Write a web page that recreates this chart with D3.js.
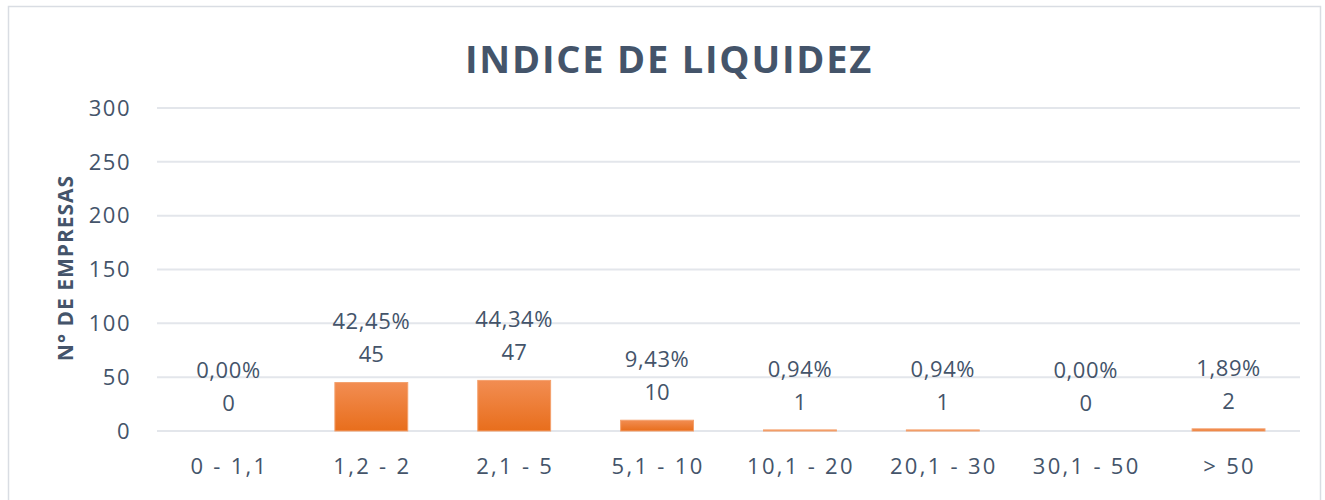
<!DOCTYPE html>
<html>
<head>
<meta charset="utf-8">
<script src="https://cdn.jsdelivr.net/npm/d3@7"></script>
<style>
  body { margin: 0; background: #fff; }
  text { font-family: "Open Sans", "Noto Sans", sans-serif; fill: #44546A; }
</style>
</head>
<body>
<div id="chart"></div>
<script>
// data
const categories = ["0 - 1,1", "1,2 - 2", "2,1 - 5", "5,1 - 10", "10,1 - 20", "20,1 - 30", "30,1 - 50", "> 50"];
const counts = [0, 45, 47, 10, 1, 1, 0, 2];
const percents = ["0,00%", "42,45%", "44,34%", "9,43%", "0,94%", "0,94%", "0,00%", "1,89%"];
const yTicks = [0, 50, 100, 150, 200, 250, 300];

const width = 1325;
const height = 500;
const margin = { top: 108, right: 25, bottom: 69, left: 157 };

const svg = d3
  .select("#chart")
  .append("svg")
  .attr("width", width)
  .attr("height", height);

// gradient for bars
const grad = svg.append("defs").append("linearGradient")
  .attr("id", "barGrad")
  .attr("x1", 0).attr("y1", 0).attr("x2", 0).attr("y2", 1);
grad.append("stop").attr("offset", "0%").attr("stop-color", "#F28D52");
grad.append("stop").attr("offset", "100%").attr("stop-color", "#E86E1C");

// outer frame
svg.append("rect")
  .attr("x", 8.5).attr("y", 6.5)
  .attr("width", 1312).attr("height", 500)
  .attr("fill", "none")
  .attr("stroke", "#D9DDE3")
  .attr("stroke-width", 1.5);

const x = d3.scaleBand()
  .domain(categories)
  .range([margin.left, width - margin.right])
  .padding(0);

const y = d3.scaleLinear()
  .domain([0, 300])
  .range([height - margin.bottom, margin.top]);

// gridlines
svg.append("g")
  .selectAll("line")
  .data(yTicks)
  .join("line")
  .attr("x1", margin.left)
  .attr("x2", width - margin.right)
  .attr("y1", (d) => y(d))
  .attr("y2", (d) => y(d))
  .attr("stroke", "#E3E6EB")
  .attr("stroke-width", 2);

// y tick labels
svg.append("g")
  .selectAll("text")
  .data(yTicks)
  .join("text")
  .attr("x", 131)
  .attr("y", (d) => y(d))
  .attr("dy", "0.35em")
  .attr("text-anchor", "end")
  .style("font-size", "22px")
  .style("letter-spacing", "1.5px")
  .text((d) => d);

// bars
const bw = x.bandwidth() * 0.51;
svg.append("g")
  .selectAll("rect")
  .data(counts)
  .join("rect")
  .attr("x", (d, i) => x(categories[i]) + (x.bandwidth() - bw) / 2)
  .attr("y", (d) => y(d))
  .attr("width", bw)
  .attr("height", (d) => y(0) - y(d))
  .attr("fill", "url(#barGrad)")
  .attr("stroke", (d) => (d > 0 ? "#F4A06C" : "none"))
  .attr("stroke-width", 1);

// value labels (percent on top, count below)
const labels = svg.append("g");
labels.selectAll("text.pct")
  .data(counts)
  .join("text")
  .attr("class", "pct")
  .attr("x", (d, i) => x(categories[i]) + x.bandwidth() / 2)
  .attr("y", (d) => y(d) - 61)
  .attr("dy", "0.35em")
  .attr("text-anchor", "middle")
  .style("font-size", "22px")
  .style("letter-spacing", "0.6px")
  .text((d, i) => percents[i]);

labels.selectAll("text.cnt")
  .data(counts)
  .join("text")
  .attr("class", "cnt")
  .attr("x", (d, i) => x(categories[i]) + x.bandwidth() / 2)
  .attr("y", (d) => y(d) - 28)
  .attr("dy", "0.35em")
  .attr("text-anchor", "middle")
  .style("font-size", "22px")
  .text((d) => d);

// x category labels
svg.append("g")
  .selectAll("text")
  .data(categories)
  .join("text")
  .attr("x", (d) => x(d) + x.bandwidth() / 2 + 1)
  .attr("y", 466)
  .attr("dy", "0.35em")
  .attr("text-anchor", "middle")
  .style("font-size", "22px")
  .style("letter-spacing", "2.3px")
  .text((d) => d);

// title
svg.append("text")
  .attr("x", 669)
  .attr("y", 60)
  .attr("dy", "0.35em")
  .attr("text-anchor", "middle")
  .style("font-size", "38px")
  .style("font-weight", "bold")
  .style("letter-spacing", "1.8px")
  .text("INDICE DE LIQUIDEZ");

// y axis title
svg.append("text")
  .attr("transform", "translate(66,268) rotate(-90)")
  .attr("dy", "0.35em")
  .attr("text-anchor", "middle")
  .style("font-size", "21px")
  .style("font-weight", "bold")
  .style("letter-spacing", "1px")
  .text("N° DE EMPRESAS");
</script>
</body>
</html>
